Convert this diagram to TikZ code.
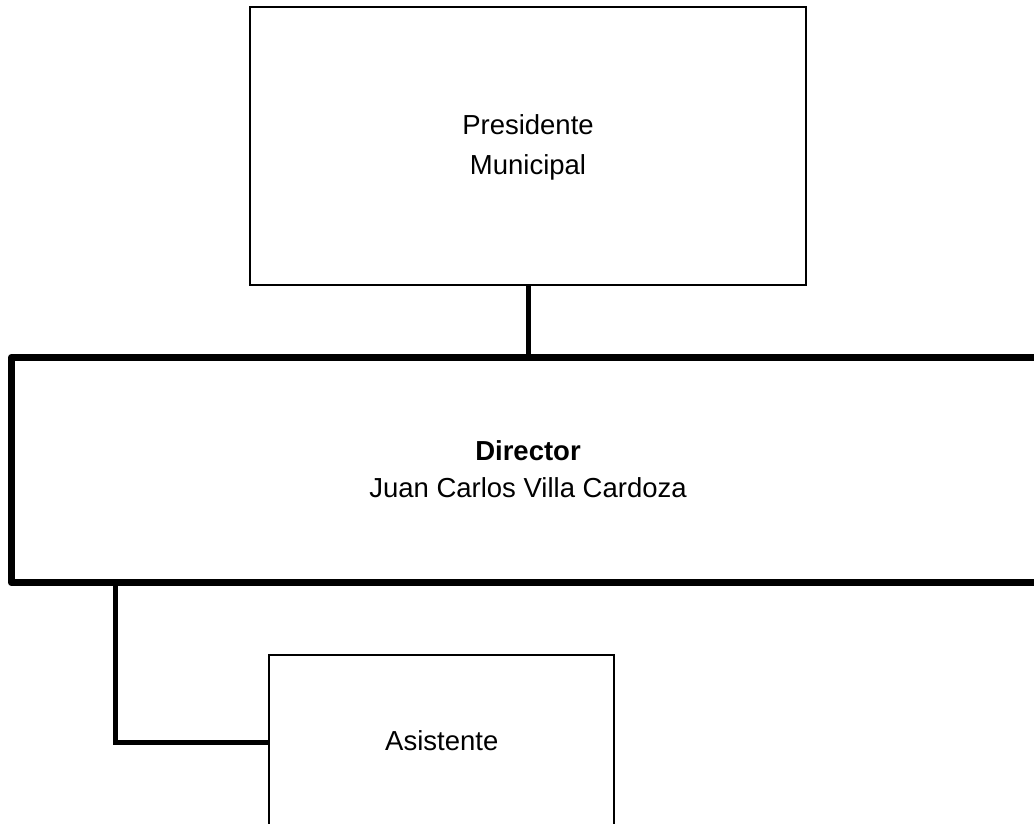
\documentclass[tikz,border=0pt]{standalone}
\usepackage{fontspec}
\setmainfont{Liberation Sans}
\begin{document}
\begin{tikzpicture}[x=1pt,y=-1pt,
  box/.style={draw=black, rectangle, outer sep=0pt, inner sep=0pt, line width=2pt},
  mainbox/.style={box, line width=7.5pt, line join=round},
  link/.style={draw=black, line width=5pt},
  lbl/.style={anchor=base, inner sep=0pt, outer sep=0pt, font=\fontsize{27.5}{33}\selectfont}]
\useasboundingbox (0,0) rectangle (1034,823);
\clip (0,0) rectangle (1034,823);
\fill[white] (0,0) rectangle (1034,823);
% boxes
\node[box, minimum width=555.5pt, minimum height=278pt] (pres) at (528,146) {};
\node[mainbox, minimum width=1033pt, minimum height=225pt] (dir) at (528,470) {};
\node[box, minimum width=345pt, minimum height=173.4pt] (asis) at (441.8,742) {};
% connectors
\draw[link] (pres.south) -- (dir.north);
\coordinate (dirout) at ([xshift=104pt]dir.south west);
\draw[link] (dirout) |- (asis.west);
% texts
\node[lbl] (t1) at (528,134) {Presidente};
\node[lbl] (t2) at (528,174) {Municipal};
\node[lbl] (t3) at (528,460) {\bfseries Director};
\node[lbl] (t4) at (528,497.5) {Juan Carlos Villa Cardoza};
\node[lbl] (t5) at (441.8,750.7) {Asistente};
\end{tikzpicture}
\end{document}
